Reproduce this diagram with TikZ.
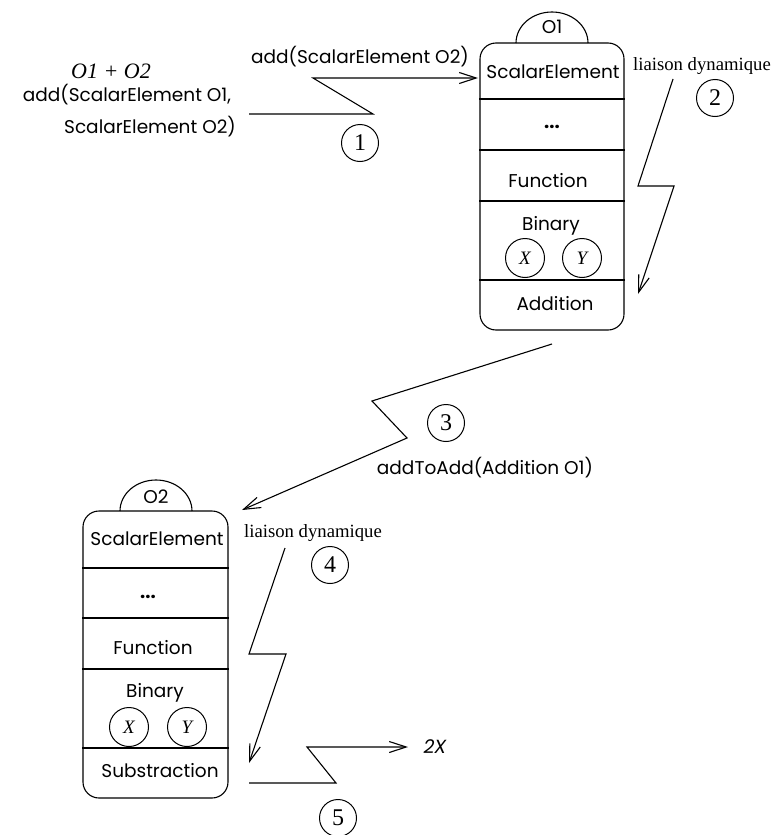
\documentclass[tikz,border=0pt]{standalone}
\usepackage{fontspec}
\setmainfont{Liberation Serif}
\newfontfamily\gsans{Poppins}
\usetikzlibrary{arrows.meta}

\begin{document}
\begin{tikzpicture}[x=1pt,y=-1pt,line width=1.1pt,
  sans/.style={font=\gsans\fontsize{18.5}{22}\selectfont, inner sep=0pt, anchor=base},
  serif/.style={font=\fontsize{18.7}{22}\selectfont, inner sep=0pt, anchor=base},
  num/.style={draw, circle, minimum size=37pt, inner sep=0pt, line width=1pt, font=\fontsize{24}{26}\selectfont},
  var/.style={draw, circle, minimum size=39pt, inner sep=0pt, line width=1pt, font=\itshape\fontsize{19}{20}\selectfont},
  objbox/.style={draw, rounded corners=16pt, minimum width=144pt, minimum height=287pt, inner sep=0pt},
  flash/.style={-{Straight Barb[length=17pt,width=11pt]}, line width=1.1pt}]
\useasboundingbox (0,0) rectangle (773,835);

% left call
\node[serif, font=\itshape\fontsize{22}{24}\selectfont] (sum) at (111,78) {O1 + O2};
\node[sans] (call1) at (127,101) {add(ScalarElement O1,};
\node[sans] (call2) at (150,133) {ScalarElement O2)};

% object O1
\node[objbox] (o1) at (552,186.5) {};
\draw (516,43) arc[start angle=180, end angle=360, x radius=36, y radius=31];
\node[sans] (o1name) at (552,33) {O1};
\foreach \yy in {99,150,201,280}
  \draw (o1.west |- 0,\yy) -- (o1.east |- 0,\yy);
\node[sans] (o1scal) at (553,78) {ScalarElement};
\node[sans, font=\gsans\bfseries\fontsize{18.5}{22}\selectfont] (o1dots) at (552,128) {...};
\node[sans] (o1fun) at (548,187) {Function};
\node[sans] (o1bin) at (551,230) {Binary};
\node[var] (o1x) at (525,258) {X};
\node[var] (o1y) at (582,258) {Y};
\node[sans] (o1add) at (555,310) {Addition};

% object O2
\node[objbox, minimum width=145pt] (o2) at (155.5,654.5) {};
\draw (120,511) arc[start angle=180, end angle=360, x radius=36, y radius=31];
\node[sans] (o2name) at (156,503) {O2};
\foreach \yy in {568,618,669,748}
  \draw (o2.west |- 0,\yy) -- (o2.east |- 0,\yy);
\node[sans] (o2scal) at (157,545) {ScalarElement};
\node[sans, font=\gsans\bfseries\fontsize{18.5}{22}\selectfont] (o2dots) at (148,598) {...};
\node[sans] (o2fun) at (153,654) {Function};
\node[sans] (o2bin) at (155,697) {Binary};
\node[var] (o2x) at (129,727) {X};
\node[var] (o2y) at (187,727) {Y};
\node[sans] (o2sub) at (160,777) {Substraction};

% messages
\node[sans] (msg1) at (360,63) {add(ScalarElement O2)};
\node[sans] (msg3) at (485,474) {addToAdd(Addition O1)};
\node[serif] (dyn2) at (702,70) {liaison dynamique};
\node[serif] (dyn4) at (313,537) {liaison dynamique};
\node[sans, font=\gsans\itshape\fontsize{19}{22}\selectfont, anchor=base west] (res) at (423,753) {2X};

% steps
\node[num] (n1) at (360,143) {1};
\node[num] (n2) at (715,98) {2};
\node[num] (n3) at (446,423) {3};
\node[num] (n4) at (330,565) {4};
\node[num] (n5) at (338,818) {5};

% flashes
\coordinate (s1) at (249,114);
\coordinate (e1) at (478,78);
\coordinate (s2) at (673,79);
\coordinate (e2) at (638,294);
\coordinate (s3) at (552,344);
\coordinate (e3) at (242,510);
\coordinate (s4) at (285,548);
\coordinate (e4) at (249,763);
\coordinate (s5) at (249,783);
\coordinate (e5) at (408,747);
\path[draw,flash] (s1) -- (373,114) -- (313,78) -- (e1);
\path[draw,flash] (s2) -- (638,186) -- (674,186) -- (e2);
\path[draw,flash] (s3) -- (372,401) -- (407,438) -- (e3);
\path[draw,flash] (s4) -- (249,654) -- (286,654) -- (e4);
\path[draw,flash] (s5) -- (336,783) -- (307,747) -- (e5);
\end{tikzpicture}
\end{document}
